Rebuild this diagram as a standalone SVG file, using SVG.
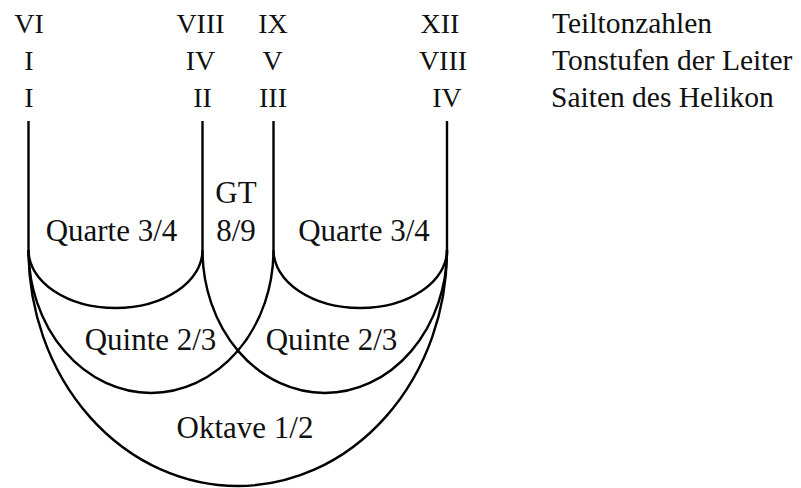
<svg xmlns="http://www.w3.org/2000/svg" width="801" height="488" viewBox="0 0 801 488">
  <style>
    .num { font-family: "Liberation Serif", "DejaVu Serif", serif; font-size: 28px; fill: #111; text-anchor: middle; }
    .leg { font-family: "Liberation Serif", "DejaVu Serif", serif; font-size: 29.5px; fill: #111; }
    .lab { font-family: "Liberation Serif", "DejaVu Serif", serif; font-size: 31px; fill: #111; text-anchor: middle; }
    .str { fill: none; stroke: #000; stroke-width: 2.4; }
  </style>
  <rect width="801" height="488" fill="#fff"/>

  <!-- numbering above each string -->
  <g id="string-I">
    <text class="num" x="29" y="33">VI</text>
    <text class="num" x="29" y="70">I</text>
    <text class="num" x="29" y="107">I</text>
    <path class="str" d="M28.5,121 V250"/>
  </g>
  <g id="string-II">
    <text class="num" x="200.5" y="33">VIII</text>
    <text class="num" x="200.5" y="70">IV</text>
    <text class="num" x="202.5" y="107">II</text>
    <path class="str" d="M202.5,121 V250"/>
  </g>
  <g id="string-III">
    <text class="num" x="273" y="33">IX</text>
    <text class="num" x="272.5" y="70">V</text>
    <text class="num" x="273" y="107">III</text>
    <path class="str" d="M273.5,121 V250"/>
  </g>
  <g id="string-IV">
    <text class="num" x="440" y="33">XII</text>
    <text class="num" x="443" y="70">VIII</text>
    <text class="num" x="447" y="107">IV</text>
    <path class="str" d="M447,121 V250"/>
  </g>

  <!-- row legend -->
  <g id="legend">
    <text class="leg" x="552" y="33">Teiltonzahlen</text>
    <text class="leg" x="552" y="70">Tonstufen der Leiter</text>
    <text class="leg" x="551" y="107">Saiten des Helikon</text>
  </g>

  <!-- interval arcs joining the strings -->
  <g id="connectors">
    <path id="quarte-left" class="str" d="M28.5,250 A87,58 0 0 0 202.5,250"/>
    <path id="quarte-right" class="str" d="M273.5,250 A86.75,58 0 0 0 447,250"/>
    <path id="quinte-left" class="str" d="M28.5,250 A122.5,143 0 0 0 273.5,250"/>
    <path id="quinte-right" class="str" d="M202.5,250 A122.25,143 0 0 0 447,250"/>
    <path id="oktave" class="str" d="M28.5,250 A209.25,236 0 0 0 447,250"/>
  </g>

  <!-- interval names -->
  <g id="labels">
    <text class="lab" x="111.5" y="241">Quarte 3/4</text>
    <text class="lab" x="236" y="203">GT</text>
    <text class="lab" x="236" y="241">8/9</text>
    <text class="lab" x="364" y="241">Quarte 3/4</text>
    <text class="lab" x="150.5" y="350">Quinte 2/3</text>
    <text class="lab" x="331.5" y="350">Quinte 2/3</text>
    <text class="lab" x="245" y="438">Oktave 1/2</text>
  </g>
</svg>
